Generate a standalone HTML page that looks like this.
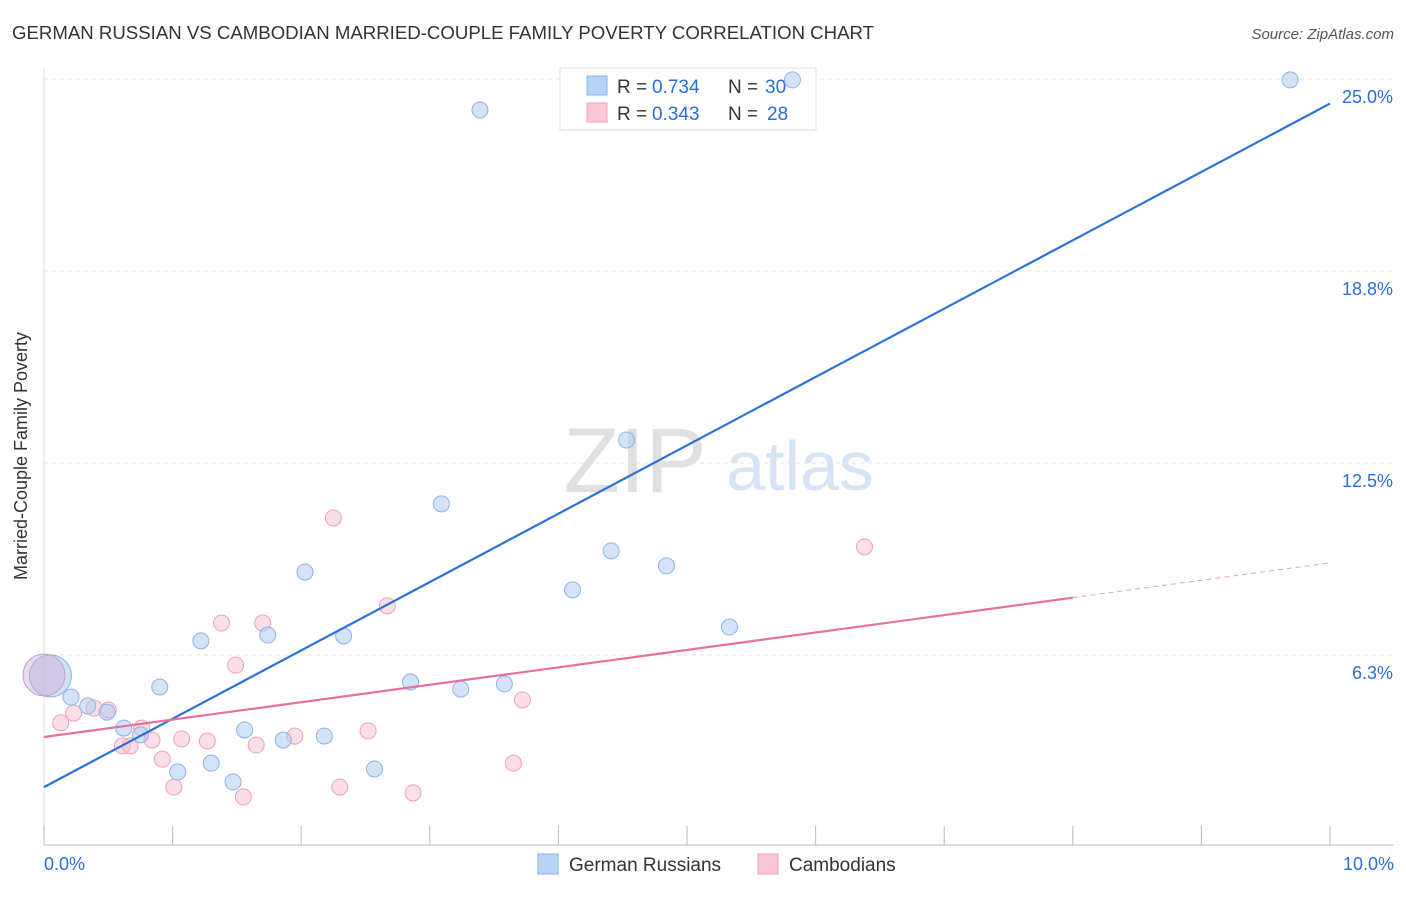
<!DOCTYPE html>
<html><head><meta charset="utf-8"><style>
body{margin:0;background:#fff;font-family:"Liberation Sans",sans-serif;}
svg text{font-family:"Liberation Sans",sans-serif;}
</style></head><body>
<svg id="chart" width="1406" height="892">
<text x="12" y="39" font-size="18" fill="#333" textLength="862" lengthAdjust="spacingAndGlyphs">GERMAN RUSSIAN VS CAMBODIAN MARRIED-COUPLE FAMILY POVERTY CORRELATION CHART</text>
<text x="1394" y="39" font-size="15" fill="#555" font-style="italic" text-anchor="end">Source: ZipAtlas.com</text>
<text x="27" y="456" font-size="18" fill="#333" text-anchor="middle" transform="rotate(-90 27 456)">Married-Couple Family Poverty</text>
<g id="grid"></g>
<text x="635" y="492" font-size="92" fill="#e0e0e0" font-family="Liberation Serif" text-anchor="middle">ZIP</text>
<text x="800" y="490" font-size="70" fill="#d6e4f6" text-anchor="middle">atlas</text>
<g>
<rect x="560" y="68" width="256" height="62" fill="#fff" stroke="#ddd"/>
<rect x="587" y="76" width="20" height="19" fill="#b8d4f5" stroke="#8ab4e8"/>
<rect x="587" y="103" width="20" height="19" fill="#fbc8d6" stroke="#f0a0b8"/>
<text y="93" font-size="19" fill="#333"><tspan x="617">R =</tspan><tspan x="652" fill="#2a6fd6">0.734</tspan><tspan x="728">N =</tspan><tspan x="765" fill="#2a6fd6">30</tspan></text>
<text y="120" font-size="19" fill="#333"><tspan x="617">R =</tspan><tspan x="652" fill="#2a6fd6">0.343</tspan><tspan x="728">N =</tspan><tspan x="767" fill="#2a6fd6">28</tspan></text>
</g>
<g id="marks"></g>
<g>
<rect x="538" y="854" width="20" height="20" fill="#b8d4f5" stroke="#8ab4e8"/>
<text x="569" y="871" font-size="19" fill="#333">German Russians</text>
<rect x="758" y="854" width="20" height="20" fill="#fbc8d6" stroke="#f0a0b8"/>
<text x="789" y="871" font-size="19" fill="#333">Cambodians</text>
</g>
</svg>
<script>
const yTicks=[6.25,12.5,18.75,25];
const yTickLabels=["6.3%","12.5%","18.8%","25.0%"];
const blueX=[3.39,5.82,9.69,4.53,3.09,4.41,4.84,4.11,2.03,5.33,1.22,1.74,2.33,0.90,0.21,2.85,3.24,3.58,0.34,0.49,0.62,0.75,1.56,1.86,2.18,1.30,1.04,1.47,2.57];
const blueY=[23.99,24.97,24.97,13.25,11.17,9.64,9.15,8.37,8.95,7.16,6.71,6.90,6.87,5.21,4.88,5.37,5.14,5.31,4.59,4.39,3.87,3.65,3.81,3.48,3.61,2.73,2.44,2.12,2.54];
const pinkX=[2.25,6.38,2.67,1.38,1.70,1.49,3.72,0.13,0.23,0.39,0.50,0.76,0.61,0.67,0.84,1.07,1.27,1.65,1.95,2.52,0.92,1.01,1.55,2.30,2.87,3.65];
const pinkY=[10.71,9.77,7.85,7.29,7.29,5.92,4.79,4.04,4.36,4.52,4.46,3.87,3.29,3.29,3.48,3.52,3.45,3.32,3.61,3.78,2.86,1.95,1.63,1.95,1.76,2.73];
const blueLine=[1.95,24.2];
const pinkLine=[3.58,9.25];
const NS="http://www.w3.org/2000/svg";
const X=v=>44+v*128.6, Y=v=>847-v*30.72;
function mk(tag,attrs,parent){const e=document.createElementNS(NS,tag);for(const k in attrs)e.setAttribute(k,attrs[k]);parent.appendChild(e);return e;}
const grid=document.getElementById('grid'),marks=document.getElementById('marks');
yTicks.forEach((t,i)=>{
 let l=mk('line',{x1:44,x2:1394,y1:Y(t),y2:Y(t),stroke:'#e2e2e2','stroke-dasharray':'4,4'},grid);
 
 
 let tx=mk('text',{x:1393,y:Y(t)+24,'font-size':18,fill:'#2a6fd6','text-anchor':'end'},grid);
 tx.textContent=yTickLabels[i];
 
 
});
let ax=mk('line',{x1:44,x2:1394,y1:845,y2:845,stroke:'#bbb'},grid);


let ay=mk('line',{x1:44,x2:44,y1:68,y2:845,stroke:'#ddd'},grid);


for(let i=0;i<=10;i++){
 let t=mk('line',{x1:X(i),x2:X(i),y1:826,y2:845,stroke:'#bbb'},grid);
 
 
}
[["0.0%",44,'start'],["10.0%",1394,'end']].forEach(d=>{
 let t=mk('text',{x:d[1],y:870,'font-size':18,fill:'#2a6fd6','text-anchor':d[2]},grid);
 t.textContent=d[0];
 
 
});
let bb=mk('circle',{cx:X(0.05),cy:Y(5.57),r:21,fill:'rgba(160,196,240,0.5)',stroke:'#8ab4e8'},marks);


let bp=mk('circle',{cx:X(0),cy:Y(5.6),r:21,fill:'rgba(210,170,210,0.45)',stroke:'#c8a0c8'},marks);


pinkX.forEach((v,i)=>{
 let c=mk('circle',{cx:X(v),cy:Y(pinkY[i]),r:8,fill:'rgba(248,190,210,0.5)',stroke:'#f0a0b8','stroke-width':1},marks);
 
 
});
blueX.forEach((v,i)=>{
 let c=mk('circle',{cx:X(v),cy:Y(blueY[i]),r:8,fill:'rgba(170,200,240,0.5)',stroke:'#8ab4e8','stroke-width':1},marks);
 
 
});
let bl=mk('line',{x1:X(0),y1:Y(blueLine[0]),x2:X(10),y2:Y(blueLine[1]),stroke:'#2a72d8','stroke-width':2.2},marks);


const pAt=v=>pinkLine[0]+(pinkLine[1]-pinkLine[0])*v/10;
let pl=mk('line',{x1:X(0),y1:Y(pAt(0)),x2:X(8),y2:Y(pAt(8)),stroke:'#e8709a','stroke-width':2.2},marks);


let pd=mk('line',{x1:X(8),y1:Y(pAt(8)),x2:X(10),y2:Y(pAt(10)),stroke:'#e8a0b8','stroke-width':1,'stroke-dasharray':'5,4'},marks);


</script>
</body></html>
